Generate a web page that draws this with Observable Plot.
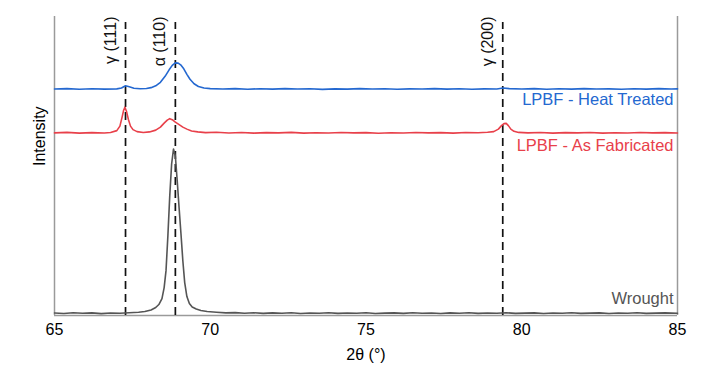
<!DOCTYPE html>
<html>
<head>
<meta charset="utf-8">
<script src="https://cdn.jsdelivr.net/npm/d3@7"></script>
<script src="https://cdn.jsdelivr.net/npm/@observablehq/plot@0.6"></script>
<style>
  html, body { margin: 0; padding: 0; background: #fff; }
  svg { font-family: "Liberation Sans", Arial, sans-serif; }
</style>
</head>
<body>
<div id="chart"></div>
<script>
// ---- data: [2θ (°), intensity (a.u., offset as shown)] ----
const wrought = [
  [65.0,2.5],[65.3,2.0],[65.6,2.8],[65.9,2.2],[66.2,2.6],[66.5,1.9],[66.8,2.5],[67.1,2.2],[67.4,2.7],
  [67.7,3.2],[67.9,4.0],[68.1,5.5],[68.25,8],[68.35,11],[68.45,17],[68.52,28],[68.58,45],[68.64,80],
  [68.7,120],[68.76,152],[68.82,167],[68.88,160],[68.94,135],[69.0,108],[69.06,82],[69.12,55],
  [69.18,33],[69.25,19],[69.33,12],[69.42,8.5],[69.55,6.5],[69.7,5],[69.9,4],[70.2,3.3],[70.5,2.6],
  [70.8,2.9],[71.1,2.3],[71.4,2.7],[71.7,2.1],[72.0,2.6],[72.3,2.2],[72.6,2.8],[72.9,2.0],[73.2,2.5],
  [73.5,2.2],[73.8,2.7],[74.1,2.1],[74.4,2.5],[74.7,2.3],[75.0,2.8],[75.3,2.0],[75.6,2.4],[75.9,2.6],
  [76.2,2.1],[76.5,2.7],[76.8,2.2],[77.1,2.5],[77.4,2.0],[77.7,2.6],[78.0,2.3],[78.3,2.8],[78.6,2.1],
  [78.9,2.5],[79.2,2.3],[79.5,2.7],[79.8,2.1],[80.1,2.4],[80.4,2.6],[80.7,2.0],[81.0,2.5],[81.3,2.2],
  [81.6,2.7],[81.9,2.1],[82.2,2.4],[82.5,2.6],[82.8,2.0],[83.1,2.5],[83.4,2.2],[83.7,2.8],[84.0,2.1],
  [84.3,2.4],[84.6,2.6],[85.0,2.3]
];
const asFabricated = [
  [65.0,183.2],[65.4,183.7],[65.8,183.0],[66.2,183.5],[66.6,183.1],[66.8,183.6],[67.0,185.5],[67.1,190],
  [67.17,199],[67.22,206],[67.26,209],[67.31,205],[67.37,197],[67.44,190],[67.52,186.5],[67.65,184.5],
  [67.85,183.6],[68.05,184.2],[68.25,186],[68.4,189],[68.52,193],[68.62,196],[68.7,197.5],[68.78,196.5],
  [68.88,194],[69.0,191.5],[69.12,189],[69.25,187],[69.4,185.2],[69.6,184.2],[69.85,183.5],[70.2,183.8],
  [70.6,183.1],[71.0,183.6],[71.4,183.0],[71.8,183.5],[72.2,183.2],[72.6,183.7],[73.0,183.0],[73.4,183.4],
  [73.8,183.1],[74.2,183.6],[74.6,183.2],[75.0,183.5],[75.4,182.9],[75.8,183.4],[76.2,183.1],[76.6,183.6],
  [77.0,183.2],[77.4,183.5],[77.8,183.0],[78.2,183.6],[78.6,183.3],[78.9,183.8],[79.1,184.5],[79.25,187],
  [79.35,190.5],[79.43,192.5],[79.5,192.8],[79.57,190.5],[79.65,187],[79.75,184.8],[79.9,183.7],
  [80.2,183.2],[80.6,183.6],[81.0,183.0],[81.4,183.5],[81.8,183.2],[82.2,183.6],[82.6,183.0],[83.0,183.4],
  [83.4,183.1],[83.8,183.6],[84.2,183.2],[84.6,183.5],[85.0,183.1]
];
const heatTreated = [
  [65.0,227.2],[65.4,227.6],[65.8,227.0],[66.2,227.5],[66.6,227.1],[67.0,227.4],[67.15,228.3],[67.28,230.5],
  [67.4,229.5],[67.55,228.0],[67.75,227.5],[67.95,227.8],[68.1,228.6],[68.25,230.5],[68.4,234],[68.55,240],
  [68.68,246.5],[68.78,251],[68.88,253.5],[68.97,253.2],[69.05,251.5],[69.15,247.5],[69.25,242],
  [69.35,237],[69.48,232.5],[69.62,229.8],[69.8,228.2],[70.0,227.6],[70.4,227.2],[70.8,227.6],[71.2,227.0],
  [71.6,227.5],[72.0,227.1],[72.4,227.6],[72.8,227.2],[73.2,227.5],[73.6,226.9],[74.0,227.4],[74.4,227.1],
  [74.8,227.6],[75.2,227.2],[75.6,227.5],[76.0,227.0],[76.4,227.4],[76.8,227.2],[77.2,227.6],[77.6,227.1],
  [78.0,227.5],[78.4,227.0],[78.8,227.4],[79.2,227.3],[79.4,228.3],[79.6,227.6],[80.0,227.2],[80.4,227.6],
  [80.8,227.0],[81.2,227.5],[81.6,227.1],[82.0,227.6],[82.4,227.2],[82.8,227.4],[83.2,227.0],[83.6,227.5],
  [84.0,227.1],[84.4,227.6],[84.8,227.2],[85.0,227.4]
];
const peakNames = ["γ (111)", "α (110)", "γ (200)"];
const peakPositions = [67.28, 68.88, 79.39];
const seriesNames = ["LPBF - Heat Treated", "LPBF - As Fabricated", "Wrought"];
const seriesLabelY = [216.5, 170.5, 17];
const seriesColors = ["#2468d0", "#e8404a", "#555555"];
const xTicks = [65, 70, 75, 80, 85];

const toRows = (arr) => arr.map(([x, y]) => ({x, y}));
const peaks = peakNames.map((name, i) => ({name, x: peakPositions[i]}));
const labels = seriesNames.map((name, i) => ({name, y: seriesLabelY[i], color: seriesColors[i]}));

const chart = Plot.plot({
  width: 713,
  height: 373,
  marginLeft: 54,
  marginRight: 36,
  marginTop: 16,
  marginBottom: 58,
  style: {fontFamily: "Liberation Sans, Arial, sans-serif", fontSize: "14px", background: "#fff"},
  x: {domain: [65, 85], axis: null},
  y: {domain: [0, 300], axis: null},
  marks: [
    Plot.text(xTicks, {x: (d) => d, text: (d) => String(d), frameAnchor: "bottom", lineAnchor: "middle",
      dy: 14, fontSize: 16, fill: "#000"}),
    Plot.text(["2θ (°)"], {frameAnchor: "bottom", lineAnchor: "middle", dy: 39, fontSize: 16, fill: "#000"}),
    Plot.text(["Intensity"], {frameAnchor: "left", rotate: -90, dx: -15, fontSize: 16, fill: "#000"}),
    Plot.ruleX([65, 85], {stroke: "#9a9a9a", strokeWidth: 1.5}),
    Plot.ruleY([0], {stroke: "#9a9a9a", strokeWidth: 1.5}),
    Plot.ruleX(peaks, {x: "x", y1: 0, y2: 294, stroke: "#111", strokeWidth: 1.7, strokeDasharray: "8,5"}),
    Plot.text(peaks, {x: "x", y: 300, text: "name", rotate: -90, textAnchor: "end", dx: -15,
      fontSize: 16, fill: "#111"}),
    Plot.line(toRows(wrought), {x: "x", y: "y", stroke: seriesColors[2], strokeWidth: 1.6}),
    Plot.line(toRows(asFabricated), {x: "x", y: "y", stroke: seriesColors[1], strokeWidth: 1.6}),
    Plot.line(toRows(heatTreated), {x: "x", y: "y", stroke: seriesColors[0], strokeWidth: 1.6}),
    Plot.text(labels, {x: 85, y: "y", text: "name", fill: "color", textAnchor: "end", dx: -4, fontSize: 16.5})
  ]
});
document.getElementById("chart").appendChild(chart);
</script>
</body>
</html>
